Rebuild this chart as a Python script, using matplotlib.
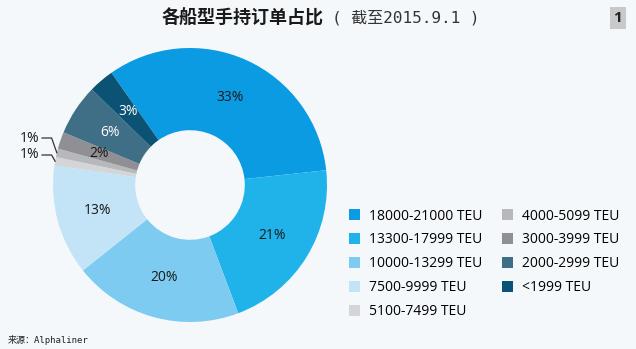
import matplotlib.pyplot as plt
import numpy as np

# data
categories = ["18000-21000 TEU", "13300-17999 TEU", "10000-13299 TEU", "7500-9999 TEU",
              "5100-7499 TEU", "4000-5099 TEU", "3000-3999 TEU", "2000-2999 TEU", "<1999 TEU"]
shares = [33, 21, 20, 13, 1, 1, 2, 6, 3]
colors = ["#0a9be3", "#20b3ea", "#7ecbf1", "#c3e3f7", "#d3d5d8", "#b6b8bb",
          "#8f8f94", "#3f6f86", "#0b5275"]
label_colors = ["#1a1a1a", "#1a1a1a", "#1a1a1a", "#1a1a1a", "#1a1a1a", "#1a1a1a",
                "#1a1a1a", "white", "white"]

bg = "#f4f8fb"
plt.rcParams['font.family'] = ['Open Sans', 'DejaVu Sans']
mono_cjk = ['DejaVu Sans Mono', 'Noto Sans CJK SC']

fig = plt.figure(figsize=(6.36, 3.49), dpi=100, facecolor=bg)
W, H = 636, 349
cx, cy, r = 190, 185, 137
ax = fig.add_axes([(cx - r) / W, (H - cy - r) / H, 2 * r / W, 2 * r / H])
ax.set_facecolor(bg)

wedges, _ = ax.pie(shares, colors=colors, startangle=125, counterclock=False,
                   radius=1, wedgeprops=dict(width=0.6, edgecolor='none'))
ax.set_xlim(-1, 1)
ax.set_ylim(-1, 1)
ax.set_aspect('equal')
ax.axis('off')

for i, (w, s) in enumerate(zip(wedges, shares)):
    ang = np.deg2rad((w.theta1 + w.theta2) / 2)
    if s == 1:
        continue
    ax.text(0.7 * np.cos(ang), 0.7 * np.sin(ang), f"{s}%", ha='center', va='center',
            fontsize=10, color=label_colors[i])

# small slices labelled outside
small = [i for i, s in enumerate(shares) if s == 1]
text_y = {small[0]: (185 - 155) / r, small[1]: (185 - 138) / r}
for i in small:
    w = wedges[i]
    ang = np.deg2rad((w.theta1 + w.theta2) / 2)
    ex, ey = np.cos(ang), np.sin(ang)
    ty = text_y[i]
    ax.plot([-1.08, -1.01, ex * 1.0], [ty, ty, ey], color='#333333', lw=0.9, clip_on=False)
    ax.text(-1.1, ty, f"{shares[i]}%", ha='right', va='center', fontsize=10, color='#1a1a1a')

fig.legend(wedges, categories, ncol=2, loc='upper left',
           bbox_to_anchor=(343 / W, (H - 203) / H), frameon=False, fontsize=10,
           handlelength=0.85, handleheight=0.85, handletextpad=0.6,
           labelspacing=0.64, columnspacing=1.4, borderaxespad=0)

# title
fig.text(162 / W, (H - 18) / H, "各船型手持订单占比", fontsize=13, fontweight='bold',
         family=['Noto Sans CJK SC', 'DejaVu Sans'], ha='left', va='center', color='#1a1a1a')
fig.text(332 / W, (H - 18) / H, "( 截至2015.9.1 )", fontsize=11.5,
         family=mono_cjk, ha='left', va='center', color='#333333')
fig.text(618 / W, (H - 18) / H, "1", fontsize=11, fontweight='bold', ha='center', va='center',
         color='#222222', bbox=dict(boxstyle='square,pad=0.25', fc='#c9c9c9', ec='none'))

fig.text(8 / W, (H - 340) / H, "来源：Alphaliner", fontsize=6.5,
         family=mono_cjk, ha='left', va='center', color='#222222')

fig.savefig("out.png", dpi=100, facecolor=bg)
